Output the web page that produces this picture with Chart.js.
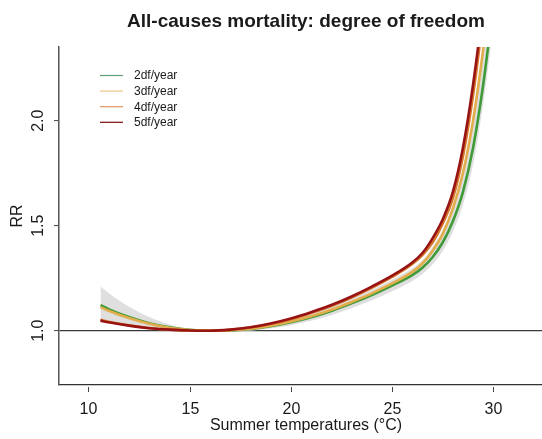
<!DOCTYPE html>
<html>
<head>
<meta charset="utf-8">
<script src="https://cdn.jsdelivr.net/npm/chart.js@4/dist/chart.umd.min.js"></script>
<style>
  html, body { margin: 0; padding: 0; background: #ffffff; }
  #wrap { width: 542px; height: 439px; overflow: hidden; position: relative; }
  canvas { display: block; }
</style>
</head>
<body>
<div id="wrap"><canvas id="c" width="560" height="439"></canvas></div>
<script>
// Summer temperature grid (°C)
const temps = [10.6, 11, 12, 13, 14, 15, 16, 17, 18, 19, 20, 21, 22, 23, 24, 25, 26, 26.5, 27, 27.5, 28, 28.5, 29, 29.5, 30];

// Relative risk curves, one per spline df for seasonality
const rr2df = [1.122, 1.103, 1.065, 1.036, 1.016, 1.004, 1.000, 1.001, 1.008, 1.021, 1.040, 1.064, 1.094, 1.130, 1.170, 1.215, 1.265, 1.30, 1.35, 1.42, 1.52, 1.66, 1.87, 2.17, 2.55];
const rr3df = [1.112, 1.095, 1.060, 1.033, 1.014, 1.003, 1.000, 1.002, 1.010, 1.024, 1.044, 1.069, 1.100, 1.137, 1.178, 1.225, 1.28, 1.32, 1.38, 1.46, 1.58, 1.75, 2.00, 2.34, 2.78];
const rr4df = [1.052, 1.043, 1.026, 1.013, 1.005, 1.001, 1.000, 1.004, 1.015, 1.032, 1.055, 1.085, 1.118, 1.158, 1.204, 1.256, 1.318, 1.36, 1.42, 1.51, 1.63, 1.83, 2.12, 2.50, 2.95];
const rr5df = [1.048, 1.040, 1.024, 1.012, 1.005, 1.001, 1.000, 1.005, 1.016, 1.034, 1.058, 1.088, 1.122, 1.163, 1.210, 1.262, 1.325, 1.37, 1.44, 1.53, 1.66, 1.87, 2.17, 2.55, 3.00];

// 95% confidence band of the 2df/year curve
const ciUpper = [1.21, 1.18, 1.115, 1.065, 1.03, 1.008, 1.0, 1.005, 1.016, 1.032, 1.055, 1.082, 1.115, 1.153, 1.195, 1.243, 1.297, 1.335, 1.40, 1.48, 1.60, 1.77, 2.00, 2.33, 2.72];
const ciLower = [1.04, 1.035, 1.02, 1.01, 1.003, 1.0, 1.0, 0.997, 1.0, 1.01, 1.026, 1.047, 1.074, 1.107, 1.145, 1.188, 1.237, 1.27, 1.315, 1.38, 1.47, 1.60, 1.79, 2.08, 2.44];

const seriesNames = ['2df/year', '3df/year', '4df/year', '5df/year'];
const xTicks = [10, 15, 20, 25, 30];
const yTicks = [1.0, 1.5, 2.0];

const colors = ['#3f9b38', '#e2ad4c', '#d5762f', '#981414'];
const legendColors = ['#5f9f74', '#efc489', '#e2925a', '#7d0a0a'];
const FONT = '"Liberation Sans", Arial, sans-serif';

const pts = arr => arr.map((v, i) => ({ x: temps[i], y: v }));

function curve(i, order) {
  return {
    label: seriesNames[i],
    data: pts([rr2df, rr3df, rr4df, rr5df][i]),
    borderColor: colors[i],
    borderWidth: 2.6,
    pointRadius: 0,
    fill: false,
    cubicInterpolationMode: 'monotone',
    order: order
  };
}

// Axis texts, offset x ticks, rotated y labels, title and legend
const annotate = {
  id: 'annotate',
  afterDraw(chart) {
    const ctx = chart.ctx;
    const xs = chart.scales.x, ys = chart.scales.y;
    const area = chart.chartArea;
    ctx.save();
    ctx.fillStyle = '#1a1a1a';
    ctx.strokeStyle = '#444';
    ctx.lineWidth = 1;

    // title
    ctx.font = 'bold 19px ' + FONT;
    ctx.textAlign = 'center';
    ctx.textBaseline = 'alphabetic';
    ctx.fillText('All-causes mortality: degree of freedom', (area.left + area.right) / 2, 27);

    // x ticks and labels
    ctx.font = '16px ' + FONT;
    ctx.textBaseline = 'middle';
    xTicks.forEach(v => {
      const px = Math.round(xs.getPixelForValue(v)) + 0.5;
      ctx.beginPath();
      ctx.moveTo(px, area.bottom + 2);
      ctx.lineTo(px, area.bottom + 7);
      ctx.stroke();
      ctx.fillText(String(v), px, area.bottom + 25);
    });
    ctx.fillText('Summer temperatures (°C)', (area.left + area.right) / 2, area.bottom + 41);

    // y labels, rotated
    yTicks.forEach(v => {
      const py = ys.getPixelForValue(v);
      ctx.save();
      ctx.translate(area.left - 20, py);
      ctx.rotate(-Math.PI / 2);
      ctx.fillText(v.toFixed(1), 0, 0);
      ctx.restore();
    });
    ctx.save();
    ctx.translate(18, (area.top + area.bottom) / 2);
    ctx.rotate(-Math.PI / 2);
    ctx.fillText('RR', 0, 0);
    ctx.restore();

    // legend
    ctx.font = '12px ' + FONT;
    ctx.textAlign = 'left';
    seriesNames.forEach((name, i) => {
      const y = 75.5 + i * 15.6;
      ctx.strokeStyle = legendColors[i];
      ctx.lineWidth = 1.2;
      ctx.beginPath();
      ctx.moveTo(100, y);
      ctx.lineTo(123, y);
      ctx.stroke();
      ctx.fillStyle = '#1a1a1a';
      ctx.fillText(name, 134, y + 0.5);
    });
    ctx.restore();
  }
};

new Chart(document.getElementById('c'), {
  type: 'line',
  data: {
    datasets: [
      { label: 'ci-upper', data: pts(ciUpper), borderWidth: 0, pointRadius: 0, fill: false,
        cubicInterpolationMode: 'monotone', order: 10 },
      { label: 'ci-lower', data: pts(ciLower), borderWidth: 0, pointRadius: 0, fill: '-1',
        backgroundColor: '#dfdfdf', cubicInterpolationMode: 'monotone', order: 9 },
      curve(0, 4),
      curve(1, 3),
      curve(2, 2),
      curve(3, 1)
    ]
  },
  options: {
    responsive: false,
    animation: false,
    devicePixelRatio: 1,
    layout: { padding: { left: 59, top: 47, right: 7, bottom: 54 } },
    plugins: { legend: { display: false }, title: { display: false }, tooltip: { enabled: false } },
    scales: {
      x: {
        type: 'linear', min: 8.55, max: 32.95,
        ticks: { display: false },
        grid: { display: false, drawTicks: false },
        border: { display: true, color: '#333', width: 1.2 },
        afterFit: s => { s.height = 0; }
      },
      y: {
        type: 'linear', min: 0.7414, max: 2.351,
        afterBuildTicks: s => { s.ticks = yTicks.map(v => ({ value: v })); },
        ticks: { display: false },
        grid: {
          color: c => (c.tick && c.tick.value === 1) ? '#3a3a3a' : 'rgba(0,0,0,0)',
          lineWidth: 1.2,
          drawTicks: true, tickLength: 5, tickColor: '#444', tickWidth: 1
        },
        border: { display: true, color: '#555', width: 1.5 },
        afterFit: s => { s.width = 0; }
      }
    }
  },
  plugins: [annotate]
});
</script>
</body>
</html>
